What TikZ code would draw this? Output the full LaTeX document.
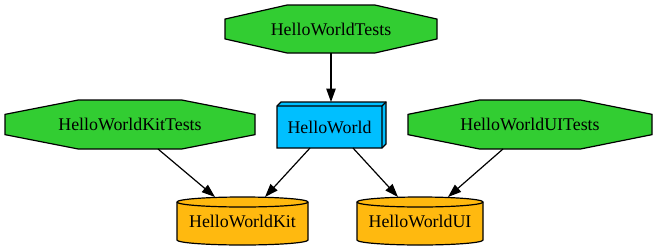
\documentclass[tikz,border=0pt]{standalone}
\usepackage{fontspec}
\setmainfont{Liberation Serif}
\usetikzlibrary{calc,arrows.meta}
\pgfdeclarelayer{background}
\pgfsetlayers{background,main}

\definecolor{testgreen}{RGB}{50,205,50}
\definecolor{appblue}{RGB}{0,191,255}
\definecolor{libgold}{RGB}{255,185,15}

% Octagon outline fitted to the bounding box of a node
\newcommand{\octshape}[2]{%
  \filldraw[shapeline, fill=#2]
    ($(#1.north west)!0.293!(#1.north east)$) --
    ($(#1.north west)!0.707!(#1.north east)$) --
    ($(#1.north east)!0.293!(#1.south east)$) --
    ($(#1.north east)!0.707!(#1.south east)$) --
    ($(#1.south east)!0.293!(#1.south west)$) --
    ($(#1.south east)!0.707!(#1.south west)$) --
    ($(#1.south west)!0.293!(#1.north west)$) --
    ($(#1.south west)!0.707!(#1.north west)$) -- cycle;}

% Cylinder fitted to a node; #2 is the horizontal radius
\newcommand{\cylshape}[3]{%
  \filldraw[shapeline, fill=#3]
    ($(#1.north west)+(0,5)$) -- ($(#1.south west)+(0,-5)$)
    arc[start angle=180, end angle=360, x radius=#2, y radius=3.75pt]
    -- ($(#1.north east)+(0,5)$)
    arc[start angle=0, end angle=180, x radius=#2, y radius=3.75pt] -- cycle;
  \draw[shapeline] ($(#1.north west)+(0,5)$)
    arc[start angle=180, end angle=360, x radius=#2, y radius=3.75pt];}

\begin{document}
\begin{tikzpicture}[x=0.75pt, y=-0.75pt,
  shapeline/.style={line width=0.9pt, line join=miter},
  lbl/.style={draw=none, inner sep=0pt, outer sep=0pt,
    font=\fontsize{13.4}{16}\selectfont, text=black},
  edge/.style={line width=0.9pt, -{Triangle[length=10pt, width=7pt]}}]

\useasboundingbox (0,0) rectangle (658,251);

% nodes (sized to their outlines)
\node[lbl, minimum width=159pt,   minimum height=36pt]    (hwt)   at (331,29)    {HelloWorldTests};
\node[lbl, minimum width=187.5pt, minimum height=36.75pt] (hwkt)  at (130,124.5) {HelloWorldKitTests};
\node[lbl, minimum width=183pt,   minimum height=36.75pt] (hwuit) at (530,124.5) {HelloWorldUITests};
\node[lbl, minimum width=78.75pt, minimum height=31.5pt]  (hw)    at (329.5,127) {HelloWorld};
\node[lbl, minimum width=98.25pt, minimum height=36pt]    (hwk)   at (242.5,221) {HelloWorldKit};
\node[lbl, minimum width=94.5pt,  minimum height=36pt]    (hwui)  at (420,221)   {HelloWorldUI};

\begin{pgfonlayer}{background}
  \octshape{hwt}{testgreen}
  \octshape{hwkt}{testgreen}
  \octshape{hwuit}{testgreen}
  % three-dimensional box
  \filldraw[shapeline, fill=appblue]
    (hw.south west) -- (hw.north west) -- ($(hw.north west)+(4,-4)$)
    -- ($(hw.north east)+(4,-4)$) -- ($(hw.south east)+(4,-4)$)
    -- (hw.south east) -- cycle;
  \draw[shapeline] (hw.north west) -- (hw.north east) -- (hw.south east)
    (hw.north east) -- ++(4,-4);
  \cylshape{hwk}{49.125pt}{libgold}
  \cylshape{hwui}{47.25pt}{libgold}
\end{pgfonlayer}

% dependencies
\draw[edge] (hwt.south) -- ([yshift=3pt]hwt.south |- hw.north);
\draw[edge] ($(hwkt.south)+(28,0)$) -- ($(hwk.north)+(-27.5,0)$);
\draw[edge] ($(hw.south)+(-19.5,0)$) -- ($(hwk.north)+(22.5,0)$);
\draw[edge] ($(hw.south)+(23.5,0)$) -- ($(hwui.north)+(-22,0)$);
\draw[edge] ($(hwuit.south)+(-27,0)$) -- ($(hwui.north)+(28,0)$);
\end{tikzpicture}
\end{document}
